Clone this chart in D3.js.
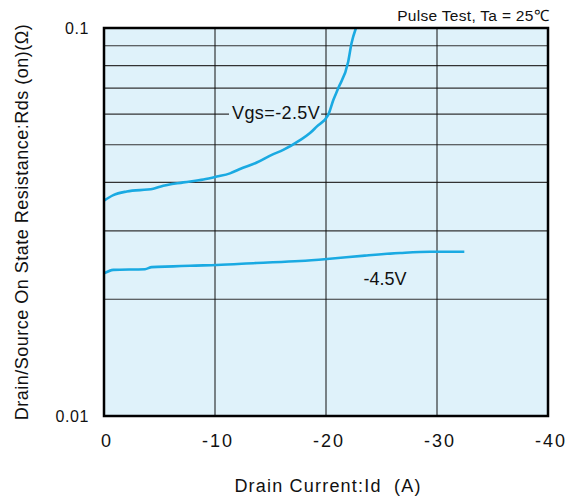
<!DOCTYPE html>
<html><head><meta charset="utf-8">
<script src="https://cdn.jsdelivr.net/npm/d3@7"></script>
<style>
body{margin:0;background:#fff;}
text{font-family:"Liberation Sans",Arial,Helvetica,sans-serif;fill:#111;}
</style></head>
<body>
<svg id="c" width="575" height="501"></svg>
<script>
// Data
const xTicks = [0, -10, -20, -30, -40];
const yTickLabels = [0.1, 0.01];
const yGrid = [0.02, 0.03, 0.04, 0.05, 0.06, 0.07, 0.08, 0.09];
const idVgs25 = [0, -0.84, -2.05, -4.44, -5.05, -7.14, -8.95, -10.15, -11.35, -12.25, -13.76, -15.11, -16.15, -17.66, -18.56, -19.16, -20.2, -20.66, -21.1, -22.0, -22.3, -22.7];
const rdsVgs25 = [0.0359, 0.0371, 0.0379, 0.0385, 0.0390, 0.0400, 0.0407, 0.0414, 0.0422, 0.0433, 0.0450, 0.0471, 0.0485, 0.0514, 0.0536, 0.0557, 0.0597, 0.0652, 0.0699, 0.0819, 0.0913, 0.1];
const idVgs45 = [0, -0.84, -3.69, -4.3, -6.24, -7.75, -10.15, -13.76, -17.66, -20.1, -23.5, -26.67, -29.37, -32.46];
const rdsVgs45 = [0.0233, 0.0238, 0.0239, 0.0242, 0.0243, 0.0244, 0.0245, 0.0248, 0.0251, 0.0254, 0.0259, 0.0263, 0.0265, 0.0265];

const svg = d3.select("#c");
const L = 104, R = 548, T = 28, B = 416;
const x = d3.scaleLinear().domain([0, -40]).range([L, R]);
const y = d3.scaleLog().domain([0.01, 0.1]).range([B, T]);

svg.append("rect").attr("x", L).attr("y", T).attr("width", R - L).attr("height", B - T).attr("fill", "#dff2fa");

// grid
svg.append("g").selectAll("line").data(yGrid).join("line")
  .attr("x1", L).attr("x2", R).attr("y1", d => y(d)).attr("y2", d => y(d))
  .attr("stroke", "#333").attr("stroke-width", 1.1);
svg.append("g").selectAll("line").data(xTicks.slice(1, -1)).join("line")
  .attr("x1", d => x(d)).attr("x2", d => x(d)).attr("y1", T).attr("y2", B)
  .attr("stroke", "#111").attr("stroke-width", 1);

// label backgrounds & labels
const lab1 = svg.append("text").attr("x", 232).attr("y", 118.5).attr("font-size", 18)
  .attr("letter-spacing", 0.4).text("Vgs=-2.5V");
const bb = lab1.node().getBBox();
svg.insert("rect", "text").attr("x", bb.x - 3).attr("y", bb.y).attr("width", bb.width + 4).attr("height", bb.height).attr("fill", "#dff2fa");
svg.append("text").attr("x", 385).attr("y", 284.5).attr("font-size", 18).attr("text-anchor", "middle").text("-4.5V");

// curves
const line = d3.line().x(d => x(d[0])).y(d => y(d[1])).curve(d3.curveMonotoneX);
const s1 = idVgs25.map((v, i) => [v, rdsVgs25[i]]);
const s2 = idVgs45.map((v, i) => [v, rdsVgs45[i]]);
[s1, s2].forEach(s => svg.append("path").datum(s).attr("d", line)
  .attr("fill", "none").attr("stroke", "#1aaae2").attr("stroke-width", 2.6).attr("stroke-linejoin", "round"));

// border
svg.append("rect").attr("x", L).attr("y", T).attr("width", R - L).attr("height", B - T)
  .attr("fill", "none").attr("stroke", "#000").attr("stroke-width", 2.5);

// axes text
svg.append("g").selectAll("text").data(xTicks).join("text")
  .attr("x", d => x(d) + 3).attr("y", 447).attr("font-size", 18).attr("letter-spacing", 2)
  .attr("text-anchor", "middle").text(d => String(d));
svg.append("g").selectAll("text").data(yTickLabels).join("text")
  .attr("x", 89).attr("y", d => y(d) + 5.5).attr("font-size", 16).attr("letter-spacing", 0.6)
  .attr("text-anchor", "end").text(d => String(d));

svg.append("text").attr("x", 328).attr("y", 492).attr("font-size", 18).attr("letter-spacing", 1.2)
  .attr("text-anchor", "middle").attr("xml:space", "preserve").style("white-space", "pre")
  .text("Drain Current:Id  (A)");
svg.append("text").attr("transform", "translate(28,222) rotate(-90)").attr("font-size", 18)
  .attr("letter-spacing", 0.5).attr("text-anchor", "middle")
  .text("Drain/Source On State Resistance:Rds (on)(Ω)");
svg.append("text").attr("x", 549).attr("y", 21).attr("font-size", 15.5).attr("letter-spacing", 0.3)
  .attr("text-anchor", "end").text("Pulse Test, Ta = 25℃");
</script>
</body></html>
